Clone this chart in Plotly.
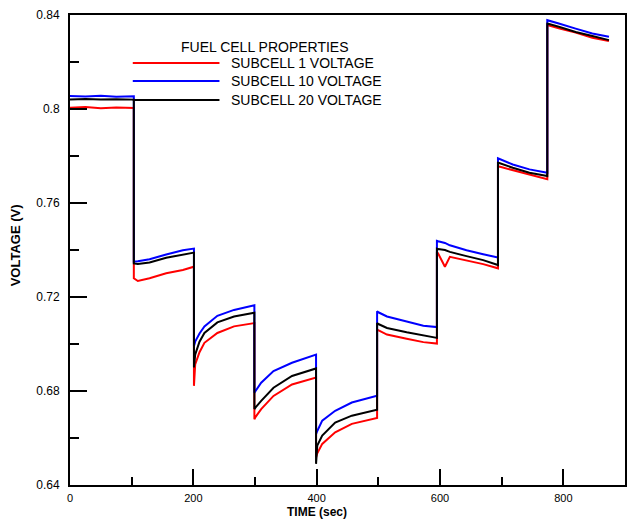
import plotly.graph_objects as go

# ---- data ----
time_sec = [0, 25, 50, 75, 103.5,
            103.5, 110, 129, 156, 183, 201,
            201, 203, 210, 218, 239, 266, 299,
            299, 301, 310, 330, 360, 399,
            399, 401, 409, 430, 457, 498,
            498, 500, 514, 546, 573, 595,
            595, 597, 608, 616, 643, 670, 694,
            694, 696, 718, 745, 774,
            774, 777, 794, 820, 847, 874]

subcell1 = [0.8005, 0.8008, 0.8003, 0.8006, 0.8004,
            0.7280, 0.7268, 0.7280, 0.7301, 0.7315, 0.7329,
            0.6822, 0.6913, 0.6965, 0.7005, 0.7047, 0.7075, 0.7089,
            0.6680, 0.6690, 0.6723, 0.6779, 0.6828, 0.6857,
            0.6518, 0.6535, 0.6575, 0.6624, 0.6660, 0.6685,
            0.7061, 0.7058, 0.7040, 0.7022, 0.7008, 0.7002,
            0.7392, 0.7385, 0.7329, 0.7371, 0.7357, 0.7340, 0.7322,
            0.7757, 0.7755, 0.7739, 0.7719, 0.7701,
            0.8356, 0.8355, 0.8342, 0.8325, 0.8303, 0.8289]

subcell10 = [0.8055, 0.8053, 0.8056, 0.8052, 0.8054,
             0.7350, 0.7352, 0.7361, 0.7381, 0.7399, 0.7406,
             0.6991, 0.7010, 0.7045, 0.7075, 0.7120, 0.7145, 0.7165,
             0.6793, 0.6800, 0.6835, 0.6885, 0.6920, 0.6955,
             0.6617, 0.6630, 0.6674, 0.6716, 0.6751, 0.6780,
             0.7139, 0.7135, 0.7117, 0.7096, 0.7078, 0.7072,
             0.7439, 0.7437, 0.7430, 0.7420, 0.7399, 0.7382, 0.7368,
             0.7790, 0.7788, 0.7764, 0.7743, 0.7729,
             0.8378, 0.8376, 0.8363, 0.8342, 0.8321, 0.8307]

subcell20 = [0.8040, 0.8043, 0.8040, 0.8042, 0.8040,
             0.7343, 0.7340, 0.7347, 0.7367, 0.7381, 0.7389,
             0.6900, 0.6955, 0.7010, 0.7047, 0.7092, 0.7117, 0.7133,
             0.6723, 0.6730, 0.6758, 0.6814, 0.6864, 0.6896,
             0.6490, 0.6568, 0.6610, 0.6666, 0.6695, 0.6720,
             0.7089, 0.7085, 0.7068, 0.7050, 0.7036, 0.7026,
             0.7406, 0.7404, 0.7400, 0.7392, 0.7374, 0.7357, 0.7336,
             0.7771, 0.7770, 0.7750, 0.7729, 0.7715,
             0.8363, 0.8362, 0.8349, 0.8328, 0.8311, 0.8293]

series_names = ["SUBCELL 1 VOLTAGE", "SUBCELL 10 VOLTAGE", "SUBCELL 20 VOLTAGE"]
series_values = [subcell1, subcell10, subcell20]
series_colors = ["#ff0000", "#0000ff", "#000000"]

x_tickvals = [0, 200, 400, 600, 800]
y_tickvals = [0.64, 0.68, 0.72, 0.76, 0.8, 0.84]
y_ticktext = ["0.64", "0.68", "0.72", "0.76", "0.8", "0.84"]

FONT = "Liberation Sans, Arial, sans-serif"

fig = go.Figure()
for name, vals, col in zip(series_names, series_values, series_colors):
    fig.add_trace(go.Scatter(x=time_sec, y=vals, mode="lines", name=name,
                             line=dict(color=col, width=2), showlegend=False))

fig.update_layout(
    width=629, height=521,
    margin=dict(l=70, r=2, t=15, b=36),
    paper_bgcolor="white", plot_bgcolor="white",
    font=dict(family=FONT, color="black", size=12),
)
fig.update_xaxes(range=[0, 900], tickvals=x_tickvals, ticks="inside", ticklen=16,
                 tickwidth=2, tickcolor="black", showgrid=False, zeroline=False,
                 showline=True, linewidth=2, linecolor="black", mirror=True,
                 tickfont=dict(size=11), ticklabelstandoff=2,
                 minor=dict(tickvals=[100, 300, 500, 700], ticks="inside", ticklen=8,
                            tickwidth=2, tickcolor="black"))
fig.update_yaxes(range=[0.64, 0.84], tickvals=y_tickvals, ticktext=y_ticktext,
                 ticks="inside", ticklen=17, tickwidth=2, tickcolor="black",
                 showgrid=False, zeroline=False, showline=True, linewidth=2,
                 linecolor="black", mirror=True, tickfont=dict(size=12),
                 ticklabelstandoff=6,
                 minor=dict(tickvals=[0.66, 0.70, 0.74, 0.78, 0.82], ticks="inside",
                            ticklen=9, tickwidth=2, tickcolor="black"))

# axis titles
fig.add_annotation(text="<b>TIME (sec)</b>", x=0.445, y=-0.0745, xref="paper", yref="paper",
                   showarrow=False, font=dict(size=12, family=FONT),
                   xanchor="center", yanchor="bottom", borderpad=0)
fig.add_annotation(text="<b>VOLTAGE (V)</b>", x=-0.099, y=0.51, xref="paper", yref="paper",
                   showarrow=False, textangle=-90, font=dict(size=13, family=FONT),
                   xanchor="center", yanchor="middle")

# legend drawn as decoration
fig.add_annotation(text="FUEL CELL PROPERTIES", x=0.352, y=0.9319, xref="paper", yref="paper",
                   showarrow=False, font=dict(size=14, family=FONT),
                   xanchor="center", yanchor="middle")
leg_y = [0.8979, 0.8596, 0.8191]
for name, col, ly in zip(series_names, series_colors, leg_y):
    fig.add_shape(type="line", xref="paper", yref="paper", x0=0.1131, x1=0.2693,
                  y0=ly, y1=ly, line=dict(color=col, width=2))
    fig.add_annotation(text=name, x=0.2873, y=ly, xref="paper", yref="paper",
                       showarrow=False, font=dict(size=14, family=FONT),
                       xanchor="left", yanchor="middle")

fig.write_html("out.html")
